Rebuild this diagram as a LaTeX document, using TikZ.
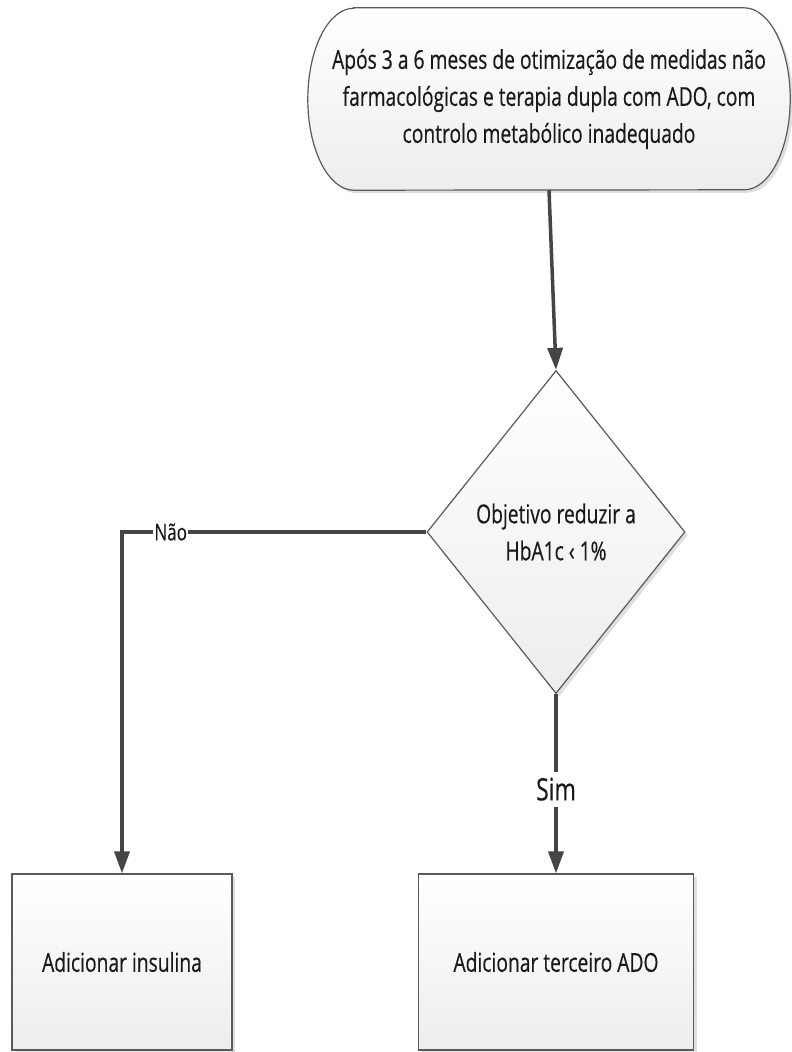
\documentclass[tikz,border=0pt]{standalone}
\usepackage{fontspec}
\setmainfont{Open Sans}[FakeStretch=0.74, FakeBold=0.4]
\usepackage{tikz}
\usetikzlibrary{
    arrows.meta,
    shapes.geometric,
    shadows,
    backgrounds,
    calc,
    positioning
}
\definecolor{linha}{HTML}{454545}
\definecolor{borda}{HTML}{5A5A5A}
\definecolor{texto}{HTML}{1A1A1A}

\begin{document}
\begin{tikzpicture}[x=1pt, y=-1pt,
        font=\fontsize{26}{37}\selectfont, text=texto,
        caixa/.style={draw=borda, line width=1.2pt, top color=white, bottom color=black!7,
            drop shadow={opacity=0.25, shadow xshift=3pt, shadow yshift=-3pt}},
        passo/.style={caixa, rectangle, minimum width=220pt, minimum height=176pt},
        decisao/.style={caixa, diamond, inner sep=0pt, minimum width=258pt, minimum height=323pt, align=center},
        conector/.style={draw=linha, line width=3.5pt, -{Triangle[length=22pt, width=15pt]}},
        rotulo/.style={fill=white, inner sep=1pt, font=\fontsize{23}{26}\selectfont}
    ]
    \useasboundingbox (0, 0) rectangle (792, 1052);

    % inicio (terminal com extremos elipticos)
    \node[minimum width=482pt, minimum height=182pt, align=center] (inicio) at (549, 99)
        {Após 3 a 6 meses de otimização de medidas não\\
         farmacológicas e terapia dupla com ADO, com\\
         controlo metabólico inadequado};
    \begin{scope}[on background layer]
        \path[caixa]
            ([xshift=46pt]inicio.north west) -- ([xshift=-46pt]inicio.north east)
            arc[start angle=90, end angle=-90, x radius=46pt, y radius=91pt]
            -- ([xshift=46pt]inicio.south west)
            arc[start angle=270, end angle=90, x radius=46pt, y radius=91pt]
            -- cycle;
    \end{scope}

    \node[decisao] (objetivo) at (556, 532) {Objetivo reduzir a\\HbA1c ‹ 1\%};

    \node[passo] (insulina) at (122, 962) {Adicionar insulina};
    \node[passo, minimum width=275pt] (terceiro) at (556, 962) {Adicionar terceiro ADO};

    \draw[conector] (inicio.south) -- (objetivo.north);
    \draw[conector] (objetivo.west) -| node[rotulo, pos=0.42] {Não} (insulina.north);
    \draw[conector] (objetivo.south) -- node[rotulo, pos=0.53, inner sep=6pt, font=\fontsize{31}{34}\selectfont] {Sim} (terceiro.north);
\end{tikzpicture}
\end{document}
